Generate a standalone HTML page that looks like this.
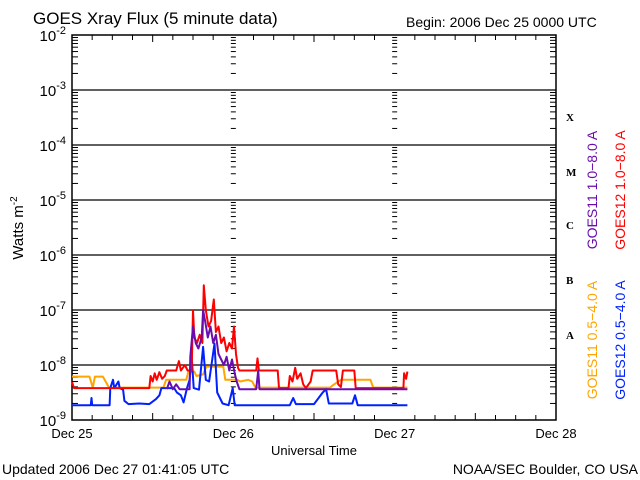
<!DOCTYPE html>
<html><head><meta charset="utf-8"><style>
html,body{margin:0;padding:0;background:#fff;}
svg{display:block;font-family:"Liberation Sans",sans-serif;}
</style></head><body>
<svg id="chart" width="640" height="480" viewBox="0 0 640 480" xmlns="http://www.w3.org/2000/svg">
<rect width="640" height="480" fill="#fff"/>
<text x="33" y="24" font-size="17">GOES Xray Flux (5 minute data)</text>
<text x="406" y="27" font-size="14">Begin:  2006 Dec 25 0000 UTC</text>
<g id="axes"></g>
<g id="series"></g>
<text x="314" y="455" font-size="13" text-anchor="middle">Universal Time</text>
<text transform="translate(23,228) rotate(-90)" font-size="15" text-anchor="middle">Watts m<tspan font-size="10" dy="-6">-2</tspan></text>
<text x="2" y="474" font-size="14">Updated 2006 Dec 27 01:41:05 UTC</text>
<text x="638" y="474" font-size="14" text-anchor="end">NOAA/SEC Boulder, CO USA</text>
<g font-family="Liberation Serif,serif" font-weight="bold" font-size="11">
<text x="566" y="121">X</text><text x="566" y="176">M</text><text x="566" y="229">C</text><text x="566" y="284">B</text><text x="566" y="339">A</text>
</g>
<text transform="translate(597,190) rotate(-90)" font-size="14" fill="#6a0dad" text-anchor="middle">GOES11 1.0−8.0 A</text>
<text transform="translate(625,190) rotate(-90)" font-size="14" fill="#ff0000" text-anchor="middle">GOES12 1.0−8.0 A</text>
<text transform="translate(597,340) rotate(-90)" font-size="14" fill="#ffa500" text-anchor="middle">GOES11 0.5−4.0 A</text>
<text transform="translate(625,340) rotate(-90)" font-size="14" fill="#0020ff" text-anchor="middle">GOES12 0.5−4.0 A</text>
</svg>
<script>
const dayLabels = ["Dec 25","Dec 26","Dec 27","Dec 28"];
const decadeExps = [-2,-3,-4,-5,-6,-7,-8,-9];
const redHours = [0,0.3,11.5,11.7,12.0,12.3,12.6,13.0,13.4,13.8,14.1,15.5,15.9,16.2,16.8,17.2,17.8,18.0,18.2,18.6,19.0,19.4,19.6,19.9,20.3,20.7,21.1,21.4,21.8,22.2,22.6,23.0,23.4,23.8,24.1,24.4,24.7,24.9,27.4,27.6,27.8,30.6,30.8,32.2,32.4,32.8,33.2,33.5,34.0,34.4,34.8,35.5,35.8,39.3,39.6,40.0,40.3,42.0,42.2,49.3,49.4,49.7,49.9];
const redLog = [-8.31,-8.42,-8.42,-8.2,-8.3,-8.15,-8.27,-8.13,-8.25,-8.2,-8.10,-8.10,-7.93,-8.10,-8.0,-8.10,-8.10,-7.0,-7.5,-7.6,-7.45,-7.6,-6.55,-7.0,-7.3,-7.2,-6.81,-7.4,-7.3,-7.6,-7.5,-7.75,-7.6,-7.7,-7.30,-7.8,-8.05,-8.10,-8.10,-7.88,-8.10,-8.10,-8.42,-8.42,-8.2,-8.3,-8.05,-8.25,-8.15,-8.35,-8.42,-8.3,-8.10,-8.10,-8.35,-8.4,-8.10,-8.10,-8.42,-8.42,-8.15,-8.25,-8.12];
const purpleHours = [14.1,14.5,15.0,15.5,16.0,17.5,17.6,18.0,18.4,18.8,19.3,19.5,19.8,20.2,20.6,21.0,21.4,21.8,22.2,22.6,23.0,23.4,23.8,24.2,24.5,24.9,27.4,27.7,27.9,49.9];
const purpleLog = [-8.44,-8.3,-8.44,-8.35,-8.44,-8.44,-7.85,-7.30,-7.6,-7.7,-7.5,-7.0,-7.2,-7.5,-7.3,-7.6,-7.45,-7.8,-7.9,-8.0,-7.85,-8.1,-7.9,-8.15,-8.3,-8.44,-8.44,-8.1,-8.44,-8.44];
const orangeHours = [0,2.6,3.1,3.4,4.6,5.5,13.6,14.0,17.0,17.3,18.2,18.5,19.5,20.0,22.5,22.8,24.6,25.0,26.2,26.8,27.3,38.4,38.8,40.0,44.4,44.8,49.9];
const orangeLog = [-8.21,-8.21,-8.41,-8.21,-8.21,-8.41,-8.41,-8.27,-8.27,-8.12,-8.12,-8.2,-8.17,-8.03,-8.03,-8.27,-8.27,-8.30,-8.27,-8.30,-8.41,-8.41,-8.37,-8.27,-8.27,-8.41,-8.41];
const blueHours = [0,2.8,2.9,3.0,5.6,5.7,6.1,6.3,6.9,7.1,7.6,7.8,8.4,10,11.5,12.5,13.0,13.3,15.2,15.6,16.2,16.6,17.1,17.5,17.8,18.1,18.9,19.5,19.9,20.4,21.2,21.6,22.4,23.3,23.9,24.2,32.4,32.9,33.3,36.0,37.3,37.8,38.2,41.7,42.1,42.5,49.9];
const blueLog = [-8.73,-8.73,-8.6,-8.73,-8.73,-8.42,-8.27,-8.42,-8.3,-8.42,-8.45,-8.65,-8.71,-8.70,-8.71,-8.62,-8.55,-8.42,-8.42,-8.5,-8.55,-8.68,-8.42,-8.27,-7.85,-8.42,-8.45,-7.67,-8.27,-8.3,-7.61,-8.5,-8.70,-8.73,-8.42,-8.73,-8.73,-8.6,-8.71,-8.71,-8.5,-8.44,-8.70,-8.70,-8.55,-8.73,-8.73];

const NS="http://www.w3.org/2000/svg";
const X0=72, X1=556, Y0=35, DEC=55;
function xs(h){return X0+(X1-X0)*h/72;}
function ys(l){return Y0+(-2-l)*DEC;}
function mk(tag,attrs,parent){const e=document.createElementNS(NS,tag);for(const k in attrs)e.setAttribute(k,attrs[k]);parent.appendChild(e);return e;}
const ax=document.getElementById('axes');
const frame=mk('rect',{x:X0,y:Y0,width:X1-X0,height:ys(-9)-Y0,fill:'none',stroke:'#000','stroke-width':1.5},ax);


decadeExps.forEach(e=>{
  const y=ys(e);
  if(e<-2&&e>-9){const g=mk('line',{x1:X0,x2:X1,y1:y,y2:y,stroke:'#000','stroke-width':1.2},ax);
    
    }
  const t=mk('text',{x:X0-6,y:y+6,'font-size':15,'text-anchor':'end'},ax);
  
  
  t.textContent='10';
  const s=mk('tspan',{dy:-7,'font-size':11},t);s.textContent=String(e);
  if(e>-9){for(let m=2;m<=9;m++){const yy=ys(e-1+Math.log10(m));
    [0,1,2,3].forEach(d=>{const xx=xs(d*24);const len=(d==0||d==3)?6:5;
      const x1=d==3?xx-len:(d==0?xx:xx-len/2);
      mk('line',{x1:x1,x2:x1+len,y1:yy,y2:yy,stroke:'#000','stroke-width':1},ax);});}}
});
for(let h=0;h<=72;h+=3){const x=xs(h);const len=h%24==0?0:(h%12==0?7:5);
  if(len){mk('line',{x1:x,x2:x,y1:Y0,y2:Y0+len,stroke:'#000'},ax);mk('line',{x1:x,x2:x,y1:ys(-9),y2:ys(-9)-len,stroke:'#000'},ax);}}
dayLabels.forEach((d,i)=>{const t=mk('text',{x:xs(i*24),y:438,'font-size':13,'text-anchor':'middle'},ax);
  
  
  t.textContent=d;});
const sg=document.getElementById('series');
function draw(hours,logs,color,name){
  const pts=hours.map((h,i)=>xs(h).toFixed(1)+','+ys(logs[i]).toFixed(1)).join(' ');
  const p=mk('polyline',{points:pts,fill:'none',stroke:color,'stroke-width':2,'stroke-linejoin':'round'},sg);
  
  
}
draw(orangeHours,orangeLog,'#ffa500','series-goes11-short');
draw(blueHours,blueLog,'#0020ff','series-goes12-short');
draw(redHours,redLog,'#ff0000','series-goes12-long');
draw(purpleHours,purpleLog,'#6a0dad','series-goes11-long');
</script>
</body></html>
